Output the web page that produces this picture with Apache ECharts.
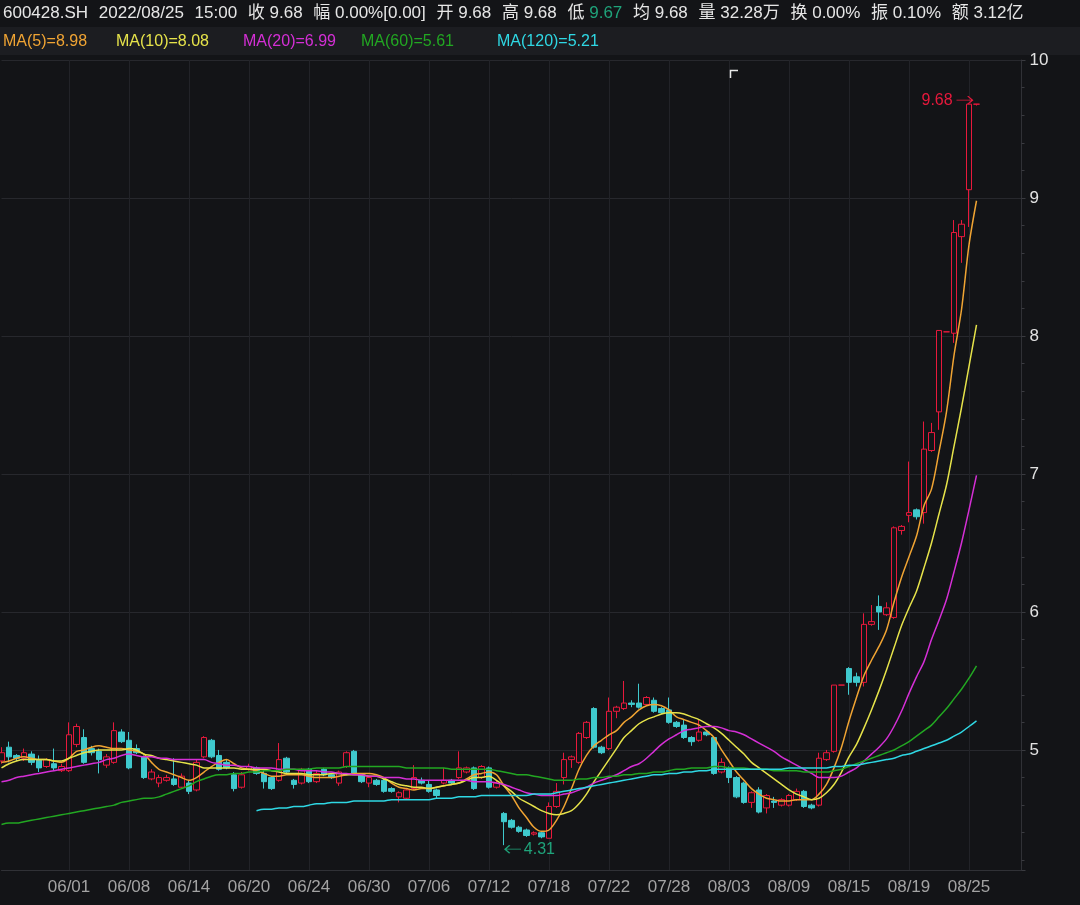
<!DOCTYPE html>
<html>
<head>
<meta charset="utf-8">
<title>600428.SH</title>
<script src="https://cdn.jsdelivr.net/npm/echarts@6.0.0/dist/echarts.min.js"></script>
<style>
html,body{margin:0;padding:0;background:#131417;overflow:hidden;}
#chart{width:1080px;height:905px;}
</style>
</head>
<body>
<div id="chart"></div>
<script>
// ---------- data ----------
const tradingDays = ['05/25','05/26','05/27','05/30','05/31','06/01','06/02','06/06','06/07','06/08','06/09','06/10','06/13','06/14','06/15','06/16','06/17','06/20','06/21','06/22','06/23','06/24','06/27','06/28','06/29','06/30','07/01','07/04','07/05','07/06','07/07','07/08','07/11','07/12','07/13','07/14','07/15','07/18','07/19','07/20','07/21','07/22','07/25','07/26','07/27','07/28','07/29','08/01','08/02','08/03','08/04','08/05','08/08','08/09','08/10','08/11','08/12','08/15','08/16','08/17','08/18','08/19','08/22','08/23','08/24','08/25'];
const sessionTimes = ['11:30','15:00'];
const tickLabels = ['06/01','06/08','06/14','06/20','06/24','06/30','07/06','07/12','07/18','07/22','07/28','08/03','08/09','08/15','08/19','08/25'];

// [open, close, low, high] per 120-minute bar
const ohlc = [
[4.92,4.98,4.90,5.02],[5.02,4.95,4.91,5.06],[4.96,4.94,4.92,4.97],[4.94,4.98,4.92,5.01],[4.97,4.91,4.89,4.99],
[4.93,4.87,4.84,4.96],[4.88,4.93,4.87,4.94],[4.90,4.87,4.85,5.01],[4.85,4.88,4.84,4.90],[4.85,5.11,4.84,5.20],
[5.04,5.17,5.02,5.19],[5.09,4.91,4.90,5.15],[5.01,4.98,4.96,5.03],[4.99,4.93,4.83,5.01],[4.89,4.95,4.87,4.97],
[4.91,5.14,4.90,5.20],[5.13,5.06,5.05,5.15],[5.07,4.87,4.86,5.13],[5.01,4.98,4.97,5.04],[4.95,4.80,4.79,4.96],
[4.79,4.84,4.78,4.86],[4.76,4.80,4.73,4.82],[4.78,4.80,4.77,4.82],[4.79,4.75,4.74,4.94],[4.73,4.81,4.72,4.83],
[4.76,4.70,4.68,4.78],[4.71,4.91,4.70,4.93],[4.95,5.09,4.94,5.10],[5.07,4.95,4.94,5.08],[4.96,4.86,4.85,5.00],
[4.91,4.87,4.86,4.93],[4.82,4.72,4.70,4.84],[4.73,4.82,4.72,4.84],[4.86,4.88,4.85,4.90],[4.87,4.83,4.82,4.88],
[4.83,4.77,4.72,4.85],[4.80,4.72,4.71,4.81],[4.78,4.93,4.77,5.05],[4.94,4.84,4.83,4.95],[4.78,4.75,4.72,4.79],
[4.76,4.86,4.75,4.87],[4.86,4.77,4.76,4.87],[4.77,4.83,4.76,4.85],[4.86,4.82,4.81,4.87],[4.82,4.80,4.79,4.83],
[4.76,4.84,4.74,4.85],[4.88,4.98,4.87,4.99],[4.99,4.83,4.82,5.00],[4.82,4.77,4.76,4.83],[4.76,4.80,4.73,4.81],
[4.78,4.75,4.74,4.79],[4.78,4.70,4.69,4.79],[4.72,4.70,4.69,4.73],[4.66,4.69,4.62,4.70],[4.65,4.71,4.64,4.72],
[4.72,4.80,4.71,4.89],[4.78,4.76,4.75,4.80],[4.75,4.70,4.69,4.78],[4.71,4.67,4.65,4.72],[4.76,4.78,4.75,4.87],
[4.78,4.76,4.75,4.79],[4.80,4.87,4.79,4.99],[4.84,4.87,4.83,4.88],[4.87,4.72,4.71,4.88],[4.80,4.88,4.79,4.89],
[4.87,4.73,4.72,4.88],[4.73,4.76,4.72,4.78],[4.54,4.48,4.31,4.55],[4.49,4.44,4.43,4.50],[4.44,4.41,4.40,4.45],
[4.42,4.38,4.37,4.43],[4.39,4.40,4.38,4.41],[4.40,4.37,4.36,4.41],[4.36,4.59,4.36,4.62],[4.59,4.70,4.58,4.76],
[4.80,4.93,4.75,4.98],[4.93,4.95,4.87,4.96],[4.91,5.12,4.90,5.13],[5.09,5.20,5.08,5.21],[5.30,5.02,5.01,5.31],
[5.02,4.98,4.97,5.03],[5.01,5.28,5.00,5.38],[5.28,5.31,5.23,5.32],[5.30,5.34,5.29,5.50],[5.34,5.33,5.31,5.36],
[5.34,5.31,5.30,5.48],[5.33,5.38,5.32,5.39],[5.36,5.28,5.27,5.38],[5.30,5.27,5.26,5.31],[5.29,5.20,5.19,5.38],
[5.20,5.17,5.16,5.21],[5.18,5.09,5.08,5.22],[5.09,5.06,5.03,5.10],[5.07,5.13,5.06,5.22],[5.13,5.11,5.10,5.14],
[5.09,4.83,4.82,5.10],[4.84,4.91,4.83,4.94],[4.87,4.80,4.76,4.88],[4.80,4.66,4.65,4.81],[4.76,4.62,4.61,4.77],
[4.62,4.69,4.58,4.70],[4.71,4.55,4.54,4.73],[4.58,4.67,4.54,4.68],[4.63,4.62,4.58,4.66],[4.60,4.64,4.59,4.65],
[4.60,4.67,4.59,4.68],[4.64,4.70,4.63,4.72],[4.70,4.59,4.58,4.71],[4.60,4.58,4.57,4.61],[4.60,4.94,4.59,4.98],
[4.93,4.98,4.92,5.00],[4.99,5.47,4.98,5.47],[5.47,5.47,5.47,5.47],[5.59,5.49,5.40,5.60],[5.53,5.49,5.46,5.56],
[5.49,5.91,5.46,5.99],[5.91,5.93,5.90,6.05],[6.04,6.00,5.87,6.12],[5.98,6.03,5.97,6.07],[5.96,6.61,5.95,6.62],
[6.59,6.62,6.56,6.63],[6.70,6.72,6.65,7.09],[6.74,6.69,6.67,6.75],[6.72,7.18,6.64,7.38],[7.17,7.30,7.16,7.37],
[7.45,8.04,7.32,8.04],[8.03,8.03,8.03,8.03],[8.02,8.75,7.95,8.84],[8.72,8.81,8.53,8.84],[9.06,9.68,8.79,9.68],
[9.68,9.68,9.67,9.68]
];

const ma5 = [4.91,4.92,4.94,4.95,4.94,4.93,4.93,4.92,4.91,4.94,
4.99,5.00,5.02,5.03,5.02,5.01,5.01,5.00,4.99,4.97,
4.91,4.86,4.84,4.82,4.80,4.78,4.80,4.84,4.88,4.91,
4.93,4.90,4.87,4.86,4.85,4.83,4.81,4.81,4.82,4.82,
4.82,4.81,4.80,4.80,4.80,4.81,4.82,4.83,4.83,4.83,
4.82,4.80,4.76,4.73,4.72,4.71,4.72,4.72,4.73,4.74,
4.75,4.76,4.79,4.82,4.83,4.84,4.82,4.74,4.67,4.58,
4.51,4.44,4.41,4.42,4.49,4.59,4.72,4.86,4.96,5.03,
5.07,5.11,5.14,5.20,5.24,5.29,5.32,5.33,5.32,5.29,
5.24,5.22,5.20,5.18,5.14,5.09,5.00,4.92,4.84,4.78,
4.72,4.68,4.65,4.64,4.63,4.63,4.64,4.64,4.64,4.68,
4.75,4.87,5.02,5.21,5.38,5.54,5.65,5.75,5.87,6.07,
6.25,6.40,6.55,6.77,6.89,7.16,7.45,7.86,8.19,8.66,
8.98];

const ma10 = [4.87,4.90,4.92,4.93,4.93,4.93,4.93,4.92,4.92,4.94,
4.96,4.98,4.99,5.00,5.00,5.00,5.00,5.01,5.00,4.97,
4.96,4.94,4.93,4.92,4.91,4.90,4.89,4.87,4.87,4.87,
4.87,4.87,4.86,4.86,4.86,4.86,4.85,4.84,4.83,4.83,
4.83,4.82,4.82,4.82,4.83,4.83,4.82,4.82,4.82,4.81,
4.81,4.79,4.77,4.75,4.74,4.73,4.73,4.72,4.73,4.74,
4.75,4.76,4.78,4.80,4.80,4.81,4.78,4.74,4.70,4.65,
4.62,4.59,4.56,4.54,4.53,4.54,4.56,4.61,4.68,4.77,
4.85,4.93,5.01,5.09,5.14,5.19,5.22,5.24,5.26,5.27,
5.27,5.26,5.24,5.22,5.19,5.16,5.12,5.07,5.02,4.97,
4.91,4.87,4.83,4.79,4.75,4.71,4.68,4.66,4.64,4.65,
4.69,4.75,4.84,4.95,5.04,5.16,5.29,5.43,5.58,5.74,
5.90,6.03,6.15,6.32,6.50,6.71,6.92,7.20,7.48,7.78,
8.08];

const ma20 = [4.77,4.78,4.80,4.81,4.82,4.83,4.84,4.85,4.86,4.87,
4.88,4.89,4.90,4.91,4.93,4.94,4.96,4.97,4.96,4.95,
4.95,4.94,4.94,4.93,4.93,4.93,4.93,4.93,4.91,4.90,
4.89,4.89,4.88,4.88,4.87,4.87,4.87,4.86,4.86,4.86,
4.85,4.85,4.85,4.84,4.84,4.83,4.83,4.82,4.82,4.81,
4.81,4.80,4.80,4.80,4.79,4.79,4.78,4.78,4.78,4.78,
4.78,4.78,4.78,4.77,4.77,4.77,4.76,4.75,4.73,4.71,
4.69,4.68,4.67,4.67,4.67,4.68,4.69,4.71,4.73,4.76,
4.78,4.80,4.82,4.85,4.88,4.90,4.94,4.99,5.04,5.08,
5.11,5.14,5.15,5.16,5.17,5.17,5.16,5.14,5.13,5.11,
5.08,5.05,5.02,4.99,4.95,4.92,4.89,4.86,4.83,4.80,
4.80,4.80,4.81,4.84,4.87,4.92,4.97,5.02,5.08,5.17,
5.28,5.41,5.53,5.64,5.80,5.94,6.09,6.29,6.50,6.74,
6.99];

const ma60 = [4.46,4.47,4.47,4.48,4.49,4.50,4.51,4.52,4.53,4.54,
4.55,4.56,4.57,4.58,4.59,4.60,4.62,4.63,4.64,4.65,
4.65,4.66,4.68,4.70,4.72,4.74,4.77,4.79,4.81,4.82,
4.82,4.83,4.83,4.84,4.84,4.85,4.85,4.85,4.86,4.86,
4.86,4.86,4.87,4.87,4.87,4.87,4.88,4.88,4.88,4.88,
4.88,4.88,4.88,4.88,4.87,4.87,4.87,4.87,4.87,4.87,
4.86,4.86,4.86,4.86,4.86,4.86,4.85,4.84,4.83,4.82,
4.82,4.81,4.80,4.79,4.78,4.78,4.78,4.79,4.79,4.80,
4.80,4.81,4.81,4.82,4.82,4.83,4.83,4.84,4.84,4.85,
4.86,4.86,4.87,4.87,4.87,4.88,4.88,4.87,4.87,4.87,
4.86,4.86,4.86,4.85,4.85,4.85,4.85,4.84,4.84,4.84,
4.84,4.85,4.86,4.88,4.90,4.92,4.94,4.96,4.98,5.00,
5.03,5.06,5.10,5.14,5.18,5.24,5.30,5.37,5.44,5.52,
5.61];

const ma120Start = 34;
const ma120Values = [4.56,4.57,4.57,4.58,4.58,4.59,4.59,4.60,4.61,4.61,
4.62,4.62,4.62,4.63,4.63,4.63,4.63,4.63,4.64,4.64,
4.64,4.64,4.64,4.64,4.65,4.65,4.65,4.66,4.66,4.66,
4.67,4.67,4.67,4.67,4.67,4.67,4.67,4.68,4.68,4.68,
4.69,4.70,4.71,4.72,4.73,4.74,4.75,4.76,4.77,4.78,
4.79,4.80,4.81,4.82,4.82,4.83,4.83,4.84,4.84,4.85,
4.85,4.86,4.86,4.86,4.86,4.86,4.86,4.86,4.86,4.86,
4.86,4.87,4.87,4.87,4.87,4.87,4.87,4.88,4.88,4.89,
4.89,4.90,4.91,4.92,4.93,4.94,4.96,4.97,4.99,5.01,
5.03,5.05,5.07,5.10,5.13,5.17,5.21];

const maNames = ['MA(5)','MA(10)','MA(20)','MA(60)','MA(120)'];
const maLatest = ['8.98','8.08','6.99','5.61','5.21'];

const headerTexts = ['600428.SH','2022/08/25','15:00','收 9.68','幅 0.00%[0.00]','开 9.68','高 9.68','低 9.67','均 9.68','量 32.28万','换 0.00%','振 0.10%','额 3.12亿'];
const headerGreenValue = '9.67';
const highMark = {bar: 130, value: 9.68, text: '9.68'};
const lowMark = {bar: 67, value: 4.31, text: '4.31'};

// ---------- layout & style ----------
const BG = '#131417';
const RED = '#e8193c';
const CYAN = '#3fc9cd';
const GREEN_TXT = '#1fa37a';
const maColors = ['#f0a433','#e6e34a','#d52fd6','#22a722','#2fd8e4'];
const FONT = '"Liberation Sans", "Noto Sans CJK SC", sans-serif';
const legendX = [3,116,243,361,497];
const padCount = 6;
const ARROW_RIGHT = 'path://M0,5 L17,5 M12,1 L17,5 L12,9';
const ARROW_LEFT = 'path://M17,5 L0,5 M5,1 L0,5 L5,9';

const categories = [];
tradingDays.forEach((d, k) => {
  (k === 0 ? ['15:00'] : sessionTimes).forEach(t => categories.push(d + ' ' + t));
});
const axisCats = categories.concat(Array.from({length: padCount}, (_, k) => 'pad' + k));
const ma120 = categories.map((_, i) => i < ma120Start ? null : ma120Values[i - ma120Start]);

const isTick = (index, value) => {
  const v = typeof value === 'string' ? value : axisCats[index];
  return typeof v === 'string' && v.endsWith(' 11:30') && tickLabels.includes(v.slice(0, 5));
};

// header as one rich line
const headerRich = headerTexts.map(t => {
  const k = t.indexOf(headerGreenValue);
  if (t.startsWith('低') && k >= 0) return '{w|' + t.slice(0, k) + '}{g|' + headerGreenValue + '}';
  return '{w|' + t + '}';
}).join('{s| }');

const graphics = [
  {type: 'rect', shape: {x: 0, y: 27, width: 1080, height: 28}, style: {fill: '#1c1d21'}, z: 0, silent: true},
  {type: 'text', x: 3, y: 13, z: 5, silent: true,
   style: {text: headerRich, verticalAlign: 'middle', textVerticalAlign: 'middle',
     rich: {w: {fill: '#e6e6e6', color: '#e6e6e6', fontSize: 17, fontFamily: FONT},
            s: {fill: '#e6e6e6', color: '#e6e6e6', fontSize: 17, fontFamily: FONT, width: 10.7},
            g: {fill: GREEN_TXT, color: GREEN_TXT, fontSize: 17, fontFamily: FONT}}}}
];
maNames.forEach((n, k) => {
  graphics.push({type: 'text', x: legendX[k], y: 42, z: 5, silent: true,
    style: {text: n + '=' + maLatest[k], fill: maColors[k], font: '16px ' + FONT, verticalAlign: 'middle', textVerticalAlign: 'middle'}});
});
graphics.push({type: 'polyline', z: 5, silent: true, shape: {points: [[730.5, 78], [730.5, 70.5], [738, 70.5]]}, style: {stroke: '#e8e8e8', lineWidth: 1.5, fill: null}});

const chart = echarts.init(document.getElementById('chart'), null, {renderer: 'canvas'});
const maSeries = [ma5, ma10, ma20, ma60, ma120].map((d, k) => ({
  name: maNames[k], type: 'line', data: d, symbol: 'none', smooth: 0.3, z: 3,
  lineStyle: {color: maColors[k], width: 1.5}, itemStyle: {color: maColors[k]}, connectNulls: false
}));

chart.setOption({
  backgroundColor: BG,
  animation: false,
  textStyle: {fontFamily: FONT},
  grid: {left: 1.5, right: 58.5, top: 60, bottom: 35, containLabel: false, outerBoundsMode: 'none'},
  xAxis: {
    type: 'category', data: axisCats, boundaryGap: false,
    axisLine: {show: true, lineStyle: {color: '#303136'}},
    axisTick: {show: false},
    axisLabel: {interval: isTick, formatter: v => v.slice(0, 5), color: '#a3a3a3', fontSize: 17, margin: 9, fontFamily: FONT},
    splitLine: {show: true, interval: isTick, lineStyle: {color: '#222328', width: 1}}
  },
  yAxis: {
    type: 'value', position: 'right', min: 4.13, max: 10, splitNumber: 5,
    axisLine: {show: true, lineStyle: {color: '#303136'}},
    axisTick: {show: true, length: 4, lineStyle: {color: '#3a3b40'}},
    minorTick: {show: true, splitNumber: 5, length: 3, lineStyle: {color: '#3a3b40'}},
    splitLine: {show: true, lineStyle: {color: '#27282d'}},
    axisLabel: {color: '#e2e2e2', fontSize: 17, margin: 8, showMinLabel: false, fontFamily: FONT}
  },
  graphic: graphics,
  series: [{
    name: 'K', type: 'candlestick', data: ohlc, barWidth: 6, z: 2, clip: false,
    itemStyle: {color: BG, color0: CYAN, borderColor: RED, borderColor0: CYAN, borderColorDoji: RED, borderWidth: 1},
    markPoint: {
      silent: true, animation: false, symbolKeepAspect: false,
      data: [
        {coord: [categories[highMark.bar], highMark.value], value: highMark.value,
         symbol: ARROW_RIGHT, symbolSize: [16, 8], symbolOffset: [-12, -4],
         itemStyle: {color: 'transparent', borderColor: RED, borderWidth: 1.2},
         label: {show: true, position: 'left', distance: 3, formatter: highMark.text, color: RED, fontSize: 16, fontFamily: FONT}},
        {coord: [categories[lowMark.bar], lowMark.value], value: lowMark.value,
         symbol: ARROW_LEFT, symbolSize: [16, 8], symbolOffset: [9, 4],
         itemStyle: {color: 'transparent', borderColor: GREEN_TXT, borderWidth: 1.2},
         label: {show: true, position: 'right', distance: 2, formatter: lowMark.text, color: GREEN_TXT, fontSize: 16, fontFamily: FONT}}
      ]
    }
  }].concat(maSeries)
});
</script>
</body>
</html>
